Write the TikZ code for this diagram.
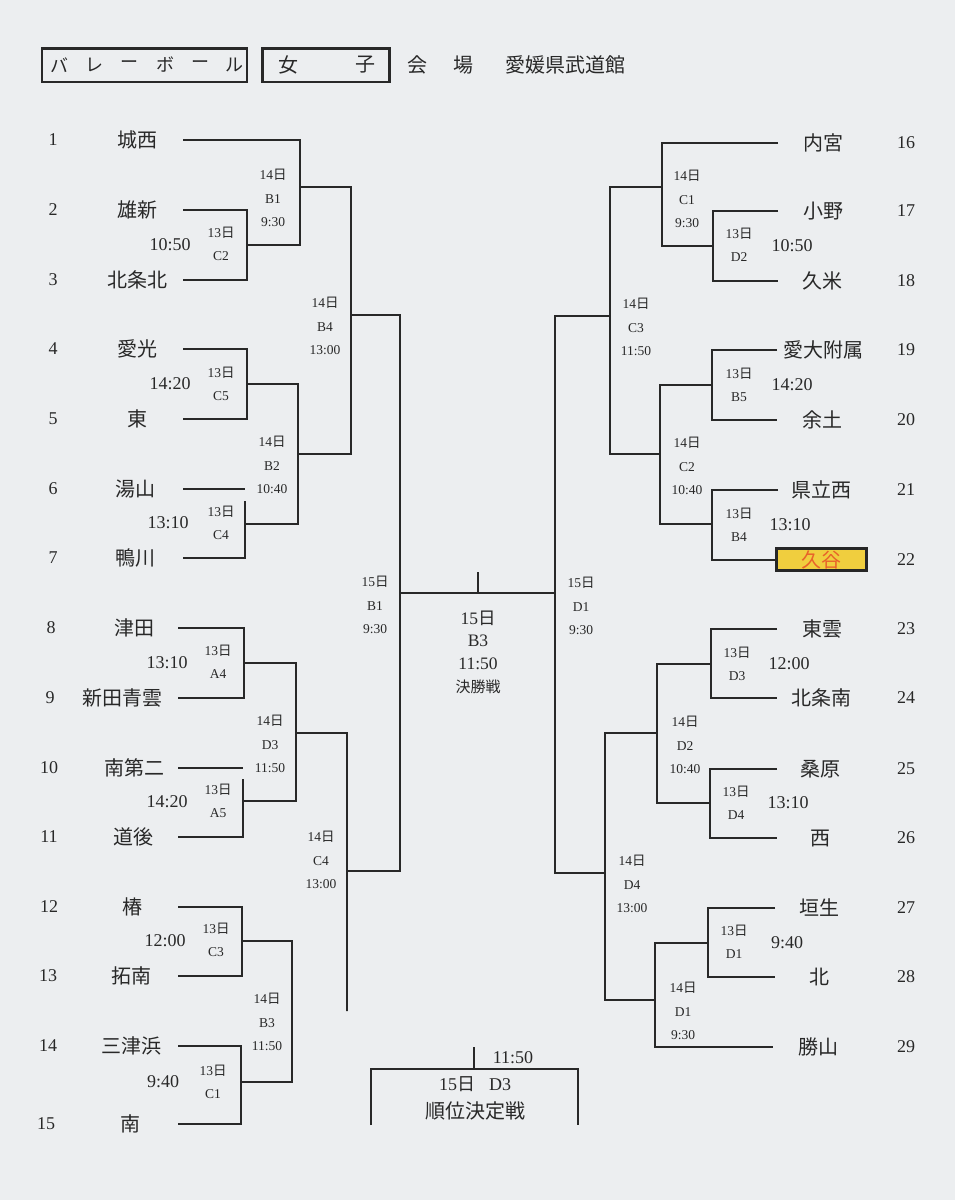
\documentclass[tikz,border=0pt]{standalone}
\usepackage{fontspec}
\setmainfont{Liberation Serif}
\newfontfamily\cjk{Noto Sans CJK JP}
\newcommand\hiz[1]{#1{\cjk 日}}
\definecolor{paper}{RGB}{236,238,240}
\definecolor{ink}{RGB}{40,40,40}
\definecolor{hl}{RGB}{240,206,62}
\definecolor{hltext}{RGB}{232,98,42}
\begin{document}
\begin{tikzpicture}[x=1pt,y=-1pt,
 ln/.style={draw=ink,line width=2pt},
 nm/.style={font=\cjk\fontsize{20}{20}\selectfont,text=ink,inner sep=0pt},
 num/.style={font=\fontsize{18}{18}\selectfont,text=ink,inner sep=0pt},
 lbl/.style={font=\fontsize{13.5}{23.3}\selectfont,text=ink,align=center,inner sep=0pt},
 tm/.style={font=\fontsize{18}{18}\selectfont,text=ink,inner sep=0pt},
 hd/.style={font=\cjk\fontsize{20}{20}\selectfont,text=ink,inner sep=0pt},
 kana/.style={font=\cjk\fontsize{18}{18}\selectfont,text=ink,inner sep=0pt},
 hbox/.style={draw=ink,line width=2.5pt,minimum height=33.5pt,inner sep=0pt},
]
\fill[paper] (0,0) rectangle (955,1200);
\useasboundingbox (0,0) rectangle (955,1200);

% ---------- header ----------
\node[hbox,minimum width=204.8pt] (hb1) at (144.4,65) {};
\node[hbox,minimum width=127.2pt] (hb2) at (326,65) {};
\node[kana] (h1) at (59.5,65) {バ};
\node[kana] (h2) at (94.6,65) {レ};
\node[kana] (h3) at (129.8,65) {ー};
\node[kana] (h4) at (165,65) {ボ};
\node[kana] (h5) at (200,65) {ー};
\node[kana] (h6) at (234,65) {ル};
\node[hd] (h7) at (288,65) {女};
\node[hd] (h8) at (365,65) {子};
\node[hd] (h9) at (417,65) {会};
\node[hd] (h10) at (463,65) {場};
\node[hd] (h11) at (565,65) {愛媛県武道館};

% ---------- left teams ----------
\foreach \i/\y/\nx/\n/\tx/\t in {
 1/140/53/1/137/城西, 2/210/53/2/137/雄新, 3/280/53/3/137/北条北,
 4/349/53/4/137/愛光, 5/419/53/5/137/東, 6/489/53/6/135/湯山,
 7/558/53/7/135/鴨川, 8/628/51/8/134/津田, 9/698/50/9/122/新田青雲,
 10/768/49/10/134/南第二, 11/837/49/11/133/道後, 12/907/49/12/132/椿,
 13/976/48/13/131/拓南, 14/1046/48/14/131/三津浜, 15/1124/46/15/130/南}{
 \node[num] (nL\i) at (\nx,\y) {\n};
 \node[nm] (tL\i) at (\tx,\y) {\t};
}
\foreach \i/\y in {1/140,2/210,3/280,4/349,5/419,6/489,7/558}{\coordinate (L\i) at (183,\y);}
\foreach \i/\y in {8/628,9/698,10/768,11/837,12/907,13/976,14/1046,15/1124}{\coordinate (L\i) at (178,\y);}

% ---------- right teams ----------
\foreach \i/\y/\tx/\t in {
 16/143/823/内宮, 17/211/823/小野, 18/281/822/久米, 19/350/823/愛大附属,
 20/420/822/余土, 21/490/821/県立西, 23/629/822/東雲, 24/698/821/北条南,
 25/769/820/桑原, 26/838/820/西, 27/908/819/垣生, 28/977/819/北, 29/1047/818/勝山}{
 \node[nm] (tR\i) at (\tx,\y) {\t};
}
\foreach \i/\y in {16/143,17/211,18/281,19/350,20/420,21/490,22/560,23/629,24/698,25/769,26/838,27/908,28/977,29/1047}{
 \node[num] (nR\i) at (906,\y) {\i};
}
\node[nm,draw=black!85,line width=3pt,fill=hl,text=hltext,minimum width=90pt,minimum height=22pt] (kt) at (821.5,559.5) {久谷};
\foreach \i/\y/\x in {16/143/778,17/211/778,18/281/778,19/350/777,20/420/777,21/490/778,23/629/777,24/698/777,25/769/777,26/838/777,27/908/775,28/977/775,29/1047/773}{\coordinate (R\i) at (\x,\y);}

% ---------- match points (vertical x, output y) ----------
\coordinate (lC2) at (247,245);  \coordinate (lB1) at (300,187);
\coordinate (lC5) at (247,384);  \coordinate (lC4) at (245,524);
\coordinate (lB2) at (298,454);  \coordinate (lB4) at (351,315);
\coordinate (lA4) at (244,663);  \coordinate (lA5) at (243,801);
\coordinate (lD3) at (296,733);  \coordinate (lC3) at (242,941);
\coordinate (lC1) at (241,1082); \coordinate (lB3) at (292,1011);
\coordinate (lC4b) at (347,871);
\coordinate (g6) at (245,501);   \coordinate (g10) at (243,779);
\coordinate (fL) at (400,593);   \coordinate (fR) at (555,593);
\coordinate (tk) at (478,572);
\coordinate (rD2) at (713,246);  \coordinate (rC1) at (662,187);
\coordinate (rB5) at (712,385);  \coordinate (rB4) at (712,524);
\coordinate (rC2) at (660,454);  \coordinate (rC3) at (610,316);
\coordinate (rD3) at (711,664);  \coordinate (rD4) at (710,803);
\coordinate (rD2b) at (657,733); \coordinate (rD1) at (708,943);
\coordinate (rD1b) at (655,1000);\coordinate (rD4b) at (605,873);

% ---------- left bracket ----------
\draw[ln] (L2) -- (L2 -| lC2) -- (L3 -| lC2) -- (L3);
\draw[ln] (L1) -- (L1 -| lB1) -- (lC2 -| lB1) -- (lC2);
\draw[ln] (L4) -- (L4 -| lC5) -- (L5 -| lC5) -- (L5);
\draw[ln] (L6) -- (L6 -| lC4);
\draw[ln] (g6) -- (L7 -| lC4) -- (L7);
\draw[ln] (lC5) -- (lC5 -| lB2) -- (lC4 -| lB2) -- (lC4);
\draw[ln] (lB1) -- (lB1 -| lB4) -- (lB2 -| lB4) -- (lB2);
\draw[ln] (L8) -- (L8 -| lA4) -- (L9 -| lA4) -- (L9);
\draw[ln] (L10) -- (L10 -| lA5);
\draw[ln] (g10) -- (L11 -| lA5) -- (L11);
\draw[ln] (lA4) -- (lA4 -| lD3) -- (lA5 -| lD3) -- (lA5);
\draw[ln] (L12) -- (L12 -| lC3) -- (L13 -| lC3) -- (L13);
\draw[ln] (L14) -- (L14 -| lC1) -- (L15 -| lC1) -- (L15);
\draw[ln] (lC3) -- (lC3 -| lB3) -- (lC1 -| lB3) -- (lC1);
\draw[ln] (lD3) -- (lD3 -| lC4b) -- (lB3 -| lC4b) -- (lC4b);
\draw[ln] (lB4) -- (lB4 -| fL) -- (lC4b -| fL) -- (lC4b);

% ---------- right bracket ----------
\draw[ln] (R17) -- (R17 -| rD2) -- (R18 -| rD2) -- (R18);
\draw[ln] (R16) -- (R16 -| rC1) -- (rD2 -| rC1) -- (rD2);
\draw[ln] (R19) -- (R19 -| rB5) -- (R20 -| rB5) -- (R20);
\draw[ln] (R21) -- (R21 -| rB4) -- (kt.west -| rB4) -- (kt.west);
\draw[ln] (rB5) -- (rB5 -| rC2) -- (rB4 -| rC2) -- (rB4);
\draw[ln] (rC1) -- (rC1 -| rC3) -- (rC2 -| rC3) -- (rC2);
\draw[ln] (R23) -- (R23 -| rD3) -- (R24 -| rD3) -- (R24);
\draw[ln] (R25) -- (R25 -| rD4) -- (R26 -| rD4) -- (R26);
\draw[ln] (rD3) -- (rD3 -| rD2b) -- (rD4 -| rD2b) -- (rD4);
\draw[ln] (R27) -- (R27 -| rD1) -- (R28 -| rD1) -- (R28);
\draw[ln] (rD1) -- (rD1 -| rD1b) -- (R29 -| rD1b) -- (R29);
\draw[ln] (rD2b) -- (rD2b -| rD4b) -- (rD1b -| rD4b) -- (rD1b);
\draw[ln] (rC3) -- (rC3 -| fR) -- (rD4b -| fR) -- (rD4b);

% ---------- final ----------
\draw[ln] (fL) -- (fR);
\draw[ln] (tk) -- (tk |- fL);

% ---------- placement match ----------
\coordinate (b1) at (371,1125); \coordinate (b2) at (371,1069);
\coordinate (b3) at (578,1069); \coordinate (b4) at (578,1125);
\coordinate (bt) at (474,1047);
\draw[ln] (b1) -- (b2) -- (b3) -- (b4);
\draw[ln] (bt) -- (bt |- b2);

% ---------- left labels ----------
\node[lbl] (mB1) at (273,198) {\hiz{14}\\B1\\9:30};
\node[lbl] (mC2) at (221,244) {\hiz{13}\\C2};
\node[tm] (sC2) at (170,245) {10:50};
\node[lbl] (mB4) at (325,326) {\hiz{14}\\B4\\13:00};
\node[lbl] (mC5) at (221,384) {\hiz{13}\\C5};
\node[tm] (sC5) at (170,384) {14:20};
\node[lbl] (mB2) at (272,465) {\hiz{14}\\B2\\10:40};
\node[lbl] (mC4) at (221,523) {\hiz{13}\\C4};
\node[tm] (sC4) at (168,523) {13:10};
\node[lbl] (mA4) at (218,662) {\hiz{13}\\A4};
\node[tm] (sA4) at (167,663) {13:10};
\node[lbl] (mD3) at (270,744) {\hiz{14}\\D3\\11:50};
\node[lbl] (mA5) at (218,801) {\hiz{13}\\A5};
\node[tm] (sA5) at (167,802) {14:20};
\node[lbl] (mC4b) at (321,860) {\hiz{14}\\C4\\13:00};
\node[lbl] (mC3) at (216,940) {\hiz{13}\\C3};
\node[tm] (sC3) at (165,941) {12:00};
\node[lbl] (mB3) at (267,1022) {\hiz{14}\\B3\\11:50};
\node[lbl] (mC1) at (213,1082) {\hiz{13}\\C1};
\node[tm] (sC1) at (163,1082) {9:40};
\node[lbl] (mfB1) at (375,605) {\hiz{15}\\B1\\9:30};

% ---------- centre labels ----------
\node[lbl,font=\fontsize{17.5}{22.5}\selectfont] (mF) at (478,640) {\hiz{15}\\B3\\11:50};
\node[nm,font=\cjk\fontsize{15}{15}\selectfont] (mFt) at (478,687) {決勝戦};
\node[lbl] (mfD1) at (581,606) {\hiz{15}\\D1\\9:30};
\node[tm] (sP) at (513,1058) {11:50};
\node[tm] (mP) at (475,1084) {\hiz{15}\hspace{14pt}D3};
\node[nm,font=\cjk\fontsize{20}{20}\selectfont] (mPt) at (475,1111) {順位決定戦};

% ---------- right labels ----------
\node[lbl] (mrC1) at (687,199) {\hiz{14}\\C1\\9:30};
\node[lbl] (mrD2) at (739,245) {\hiz{13}\\D2};
\node[tm] (srD2) at (792,246) {10:50};
\node[lbl] (mrC3) at (636,327) {\hiz{14}\\C3\\11:50};
\node[lbl] (mrB5) at (739,385) {\hiz{13}\\B5};
\node[tm] (srB5) at (792,385) {14:20};
\node[lbl] (mrC2) at (687,466) {\hiz{14}\\C2\\10:40};
\node[lbl] (mrB4) at (739,525) {\hiz{13}\\B4};
\node[tm] (srB4) at (790,525) {13:10};
\node[lbl] (mrD3) at (737,664) {\hiz{13}\\D3};
\node[tm] (srD3) at (789,664) {12:00};
\node[lbl] (mrD2b) at (685,745) {\hiz{14}\\D2\\10:40};
\node[lbl] (mrD4) at (736,803) {\hiz{13}\\D4};
\node[tm] (srD4) at (788,803) {13:10};
\node[lbl] (mrD4b) at (632,884) {\hiz{14}\\D4\\13:00};
\node[lbl] (mrD1) at (734,942) {\hiz{13}\\D1};
\node[tm] (srD1) at (787,943) {9:40};
\node[lbl] (mrD1b) at (683,1011) {\hiz{14}\\D1\\9:30};
\end{tikzpicture}
\end{document}
